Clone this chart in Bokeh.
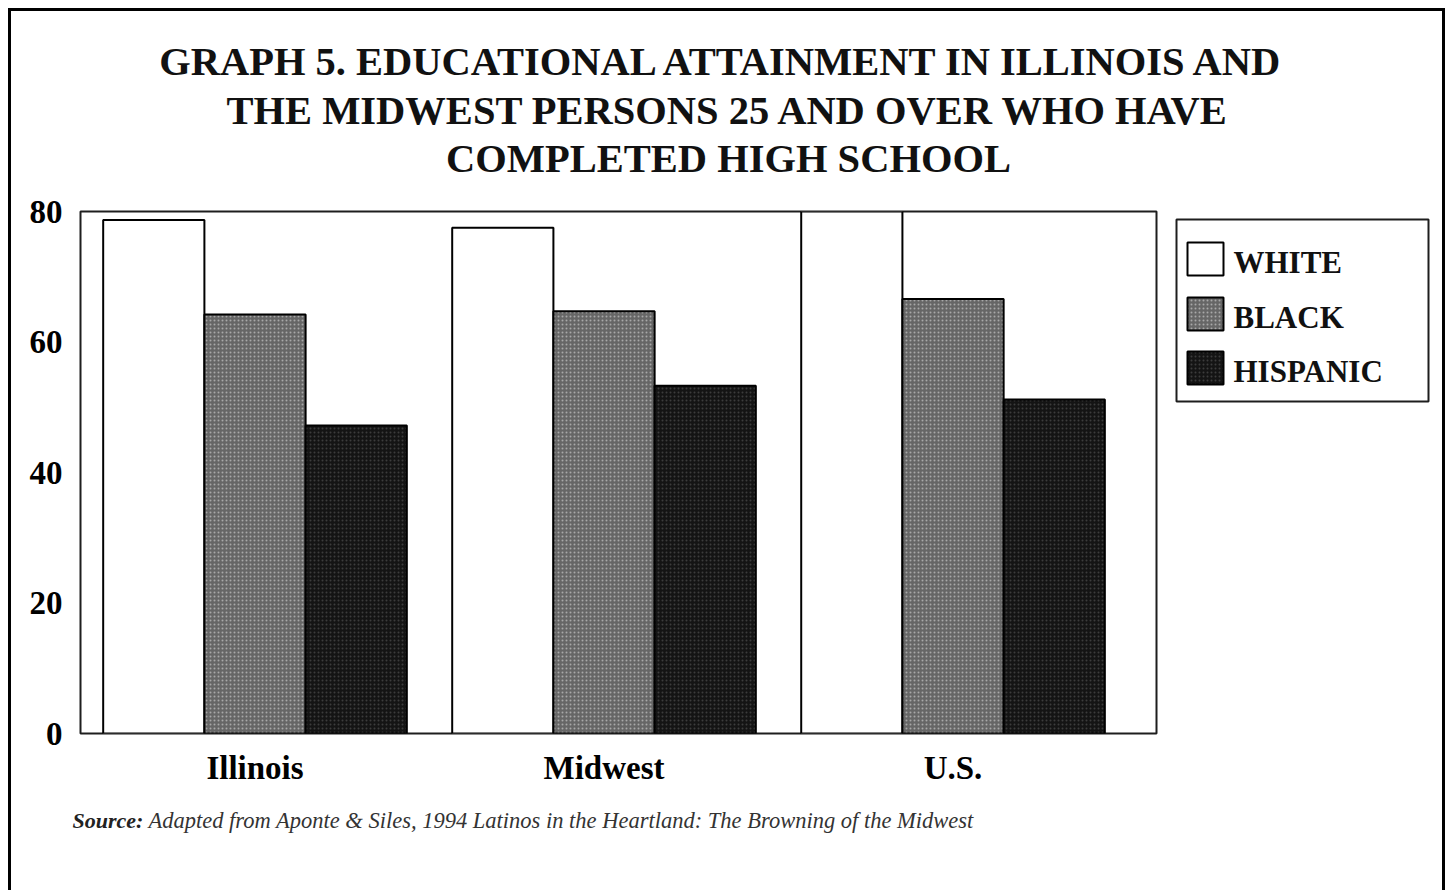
import numpy as np
from bokeh.plotting import figure
from bokeh.layouts import column, row
from bokeh.models import Range1d, FixedTicker, Label, ColumnDataSource
from bokeh.transform import dodge
from bokeh.embed import file_html
from bokeh.resources import INLINE

# ---- data ----
regions = ["Illinois", "Midwest", "U.S."]
white = [78.7, 77.5, 80.0]
black = [64.2, 64.7, 66.6]
hispanic = [47.2, 53.3, 51.2]
series_names = ["WHITE", "BLACK", "HISPANIC"]
y_ticks = [0, 20, 40, 60, 80]
title_lines = [
    "GRAPH 5.  EDUCATIONAL ATTAINMENT IN ILLINOIS AND",
    "THE MIDWEST PERSONS 25 AND OVER WHO HAVE",
    "COMPLETED HIGH SCHOOL",
]
source_head = "Source:"
source_text = "Adapted from Aponte & Siles, 1994 Latinos in the Heartland: The Browning of the Midwest"

SERIF = "Liberation Serif"
W, H = 1450, 890
TOP_H, MID_H = 186, 614
BOT_H = H - TOP_H - MID_H
MAIN_W = 1165
FR_L, FR_R, FR_T, FR_B = 80, 1156, 211, 733   # plot frame in page pixels

# series styles
styles = [
    dict(fill_color="white", line_color="black", line_width=2),
    dict(fill_color="#666666", line_color="black", line_width=2,
         hatch_pattern="dot", hatch_color="#a8a8a8", hatch_scale=4, hatch_weight=1.5),
    dict(fill_color="#141414", line_color="black", line_width=2,
         hatch_pattern="dot", hatch_color="#3c3c3c", hatch_scale=4, hatch_weight=1.5),
]


def blank(width, height, x0, x1, y0, y1, **kw):
    f = figure(width=width, height=height, output_backend="svg", toolbar_location=None,
               x_range=Range1d(x0, x1), y_range=Range1d(y0, y1),
               x_axis_type=None, y_axis_type=None, **kw)
    f.title = None
    f.grid.visible = False
    f.outline_line_color = None
    f.background_fill_color = None
    f.border_fill_color = None
    return f


def baseline(y, size):
    # Bokeh places the glyph baseline about 0.375 em below the requested y
    return y - 0.375 * size


# ---- title strip (coordinates = page pixels, y downward) ----
t = blank(W, TOP_H, 0, W, TOP_H, 0, min_border=0)
TS = 40.5
for txt, yb in zip(title_lines, [76, 125, 173]):
    t.add_layout(Label(x=728, y=baseline(yb, TS), text=txt, text_align="center",
                       text_baseline="alphabetic", text_font=SERIF, text_font_style="bold",
                       text_font_size=f"{TS}px", text_color="#111111"))

# ---- main chart ----
pos = np.arange(len(regions)) + 0.5
src = ColumnDataSource(dict(x=pos, white=white, black=black, hispanic=hispanic))

p = figure(width=MAIN_W, height=MID_H, output_backend="svg", toolbar_location=None,
           x_range=Range1d(0, 3.083), y_range=Range1d(0, 80),
           min_border_left=FR_L, min_border_right=MAIN_W - FR_R,
           min_border_top=FR_T - TOP_H, min_border_bottom=TOP_H + MID_H - FR_B)
p.title = None
p.grid.visible = False
p.background_fill_color = "white"
p.border_fill_color = None
p.outline_line_color = "#1e1e1e"
p.outline_line_width = 2

bw = 0.29
for off, col, st in zip([-bw, 0, bw], ["white", "black", "hispanic"], styles):
    p.vbar(x=dodge("x", off, range=p.x_range), top=col, width=bw, source=src, **st)

p.yaxis.ticker = FixedTicker(ticks=y_ticks)
p.xaxis.ticker = FixedTicker(ticks=list(pos))
p.xaxis.major_label_overrides = {float(v): n for v, n in zip(pos, regions)}
for ax in (p.xaxis[0], p.yaxis[0]):
    ax.axis_line_color = None
    ax.major_tick_line_color = None
    ax.minor_tick_line_color = None
    ax.major_tick_out = 0
    ax.major_tick_in = 0
    ax.major_label_text_font = SERIF
    ax.major_label_text_font_style = "bold"
    ax.major_label_text_font_size = "33px"
    ax.major_label_text_color = "black"
p.yaxis.major_label_standoff = 18
p.xaxis.major_label_standoff = 16

# ---- legend panel (frame aligned with the chart frame; coords = page pixels) ----
lg = blank(W - MAIN_W, MID_H, MAIN_W, W, FR_B, FR_T,
           min_border_left=0, min_border_right=0,
           min_border_top=FR_T - TOP_H, min_border_bottom=TOP_H + MID_H - FR_B)
lg.quad(left=[1176], right=[1428], top=[219], bottom=[401], fill_color="white",
        line_color="#1e1e1e", line_width=2)
LS = 31
for name, st, yt in zip(series_names, styles, [242, 297, 351]):
    lg.quad(left=[1187], right=[1223], top=[yt], bottom=[yt + 33], **st)
    lg.add_layout(Label(x=1233, y=baseline(yt + 32, LS), text=name, text_align="left",
                        text_baseline="alphabetic", text_font=SERIF,
                        text_font_style="bold", text_font_size=f"{LS}px", text_color="#111111"))

# ---- source strip ----
b = blank(W, BOT_H, 0, W, H, TOP_H + MID_H, min_border=0)
b.add_layout(Label(x=72, y=baseline(828, 22), text=source_head, text_align="left",
                   text_baseline="alphabetic", text_font=SERIF, text_font_style="bold italic",
                   text_font_size="22px", text_color="#222222"))
b.add_layout(Label(x=148, y=baseline(828, 22.5), text=source_text, text_align="left",
                   text_baseline="alphabetic", text_font=SERIF, text_font_style="italic",
                   text_font_size="22.5px", text_color="#333333"))

border_css = {
    "background-color": "white",
    "background-image": ", ".join(["linear-gradient(black, black)"] * 3),
    "background-size": "3px 100%, 1437px 3px, 3px 100%",
    "background-position": "8px 8px, 8px 8px, 1442px 8px",
    "background-repeat": "no-repeat",
}

layout = column(t, row(p, lg, spacing=0), b, spacing=0, styles=border_css)

open("out.html", "w").write(file_html(layout, INLINE))
